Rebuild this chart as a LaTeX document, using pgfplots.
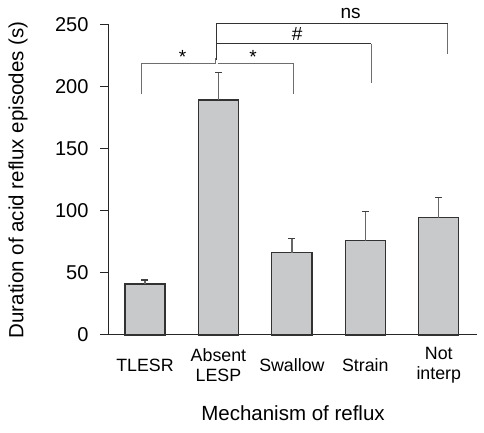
\documentclass[border=0pt]{standalone}
\usepackage{pgfplots}
\pgfplotsset{compat=1.18}
\usepackage{fontspec}
\setmainfont{Liberation Sans}
\definecolor{barfill}{RGB}{200,201,203}
\definecolor{baredge}{RGB}{50,50,50}
\definecolor{brk}{RGB}{110,110,110}
\begin{document}
\begin{tikzpicture}
\useasboundingbox (-109pt,-98pt) rectangle (375pt,335pt);
\begin{axis}[
  at={(0,0)}, anchor=south west,
  scale only axis, width=368pt, height=310pt,
  xmin=-0.49, xmax=4.52, ymin=0, ymax=250,
  clip=false,
  axis x line=bottom, axis y line=left,
  axis line style={-, line width=1pt, black!85},
  xtick={0,1,2,3,4},
  xticklabels={TLESR, {Absent\\LESP}, Swallow, Strain, {Not\\interp}},
  xticklabel style={anchor=center, align=center, yshift=-21pt, font=\fontsize{17.8}{19.5}\selectfont},
  x tick style={draw=none},
  ytick={0,50,100,150,200,250},
  y tick style={line width=1pt, black!85},
  tick align=outside,
  major tick length=9pt,
  yticklabel style={font=\fontsize{20}{22}\selectfont, xshift=-8pt},
  /pgf/number format/assume math mode=true,
  ylabel={Duration of acid reflux episodes (s)},
  ylabel style={at={(axis description cs:0,0.5)}, anchor=center, yshift=91pt, font=\fontsize{20.5}{22}\selectfont},
  xlabel={Mechanism of reflux},
  xlabel style={at={(axis description cs:0.5,0)}, anchor=center, yshift=-78pt, font=\fontsize{20.5}{22}\selectfont},
]
\addplot[ybar, bar width=40pt, fill=barfill, draw=baredge, line width=1.2pt,
  error bars/.cd, y dir=plus, y explicit,
  error bar style={line width=1.2pt, black!60},
  error mark options={rotate=90, mark size=3.5pt, line width=1.2pt, black!75}]
  coordinates {
  (0,41.1) +- (0,3.3)
  (1,189.5) +- (0,22.5)
  (2,66.4) +- (0,11.6)
  (3,76) +- (0,23.4)
  (4,94.6) +- (0,16.1)
};
% significance brackets
\addplot[brk, line width=0.9pt] coordinates {(-0.05,194) (-0.05,219) (0.96,219) (0.96,223)};
\addplot[brk, line width=0.9pt] coordinates {(0.99,219) (2.02,219) (2.02,194)};
\addplot[black!80, line width=0.9pt] coordinates {(0.97,222) (0.97,235) (3.08,235)};
\addplot[brk, line width=0.9pt] coordinates {(3.08,235) (3.08,203.5)};
\addplot[black!80, line width=0.9pt] coordinates {(0.97,235) (0.97,251) (4.12,251)};
\addplot[brk, line width=0.9pt] coordinates {(4.12,251) (4.12,227)};
\node[font=\fontsize{19}{21}\selectfont] at (axis cs:0.51,224) {*};
\node[font=\fontsize{19}{21}\selectfont] at (axis cs:1.47,224) {*};
\node[font=\fontsize{19}{21}\selectfont] at (axis cs:2.07,243) {\#};
\node[font=\fontsize{19}{21}\selectfont] at (axis cs:2.8,259) {ns};
\end{axis}
\end{tikzpicture}
\end{document}
